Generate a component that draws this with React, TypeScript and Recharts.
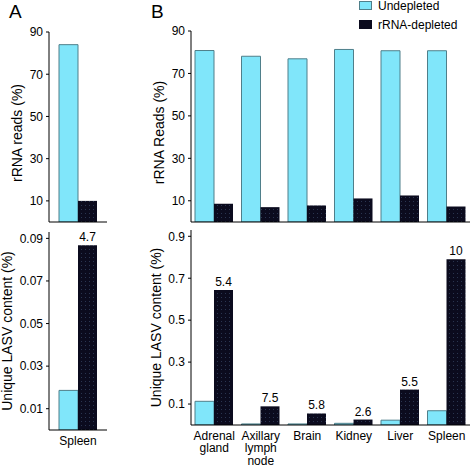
import React from 'react';
import { BarChart, Bar, XAxis, YAxis, LabelList, Legend, Label } from 'recharts';

const FONT = '"Liberation Sans", Arial, Helvetica, sans-serif';

// Panel A (spleen only)
const spleenCategory = ['Spleen'];
const spleenRrnaUndepleted = [84];
const spleenRrnaDepleted = [10];
const spleenLasvUndepleted = [0.0186];
const spleenLasvDepleted = [0.0868];
const spleenFold = ['4.7'];

// Panel B (tissues)
const tissues = ['Adrenal gland', 'Axillary lymph node', 'Brain', 'Kidney', 'Liver', 'Spleen'];
const rrnaUndepleted = [80.8, 78.1, 76.9, 81.3, 80.7, 80.7];
const rrnaDepleted = [8.6, 7.0, 7.8, 11.1, 12.5, 7.3];
const lasvUndepleted = [0.113, 0.005, 0.005, 0.008, 0.023, 0.068];
const lasvDepleted = [0.644, 0.089, 0.055, 0.026, 0.169, 0.79];
const foldLabels = ['5.4', '7.5', '5.8', '2.6', '5.5', '10'];

// Ticks
const rrnaTicks = [10, 30, 50, 70, 90];
const lasvTicksA = [0.01, 0.03, 0.05, 0.07, 0.09];
const lasvTicksB = [0.1, 0.3, 0.5, 0.7, 0.9];

const seriesNames = ['Undepleted', 'rRNA-depleted'];
const CYAN = '#80e6fa';
const CYAN_STROKE = '#4f7f8a';
const DARK = '#0b0b1e';

const dataATop = spleenCategory.map((c, i) => ({ cat: c, undepleted: spleenRrnaUndepleted[i], depleted: spleenRrnaDepleted[i] }));
const dataABottom = spleenCategory.map((c, i) => ({ cat: c, undepleted: spleenLasvUndepleted[i], depleted: spleenLasvDepleted[i], fold: spleenFold[i] }));
const dataBTop = tissues.map((c, i) => ({ cat: c, undepleted: rrnaUndepleted[i], depleted: rrnaDepleted[i] }));
const dataBBottom = tissues.map((c, i) => ({ cat: c, undepleted: lasvUndepleted[i], depleted: lasvDepleted[i], fold: foldLabels[i] }));

const YTick = (props: any) => {
  const { x, y, payload } = props;
  return (
    <text x={x} y={y} dy="0.36em" textAnchor="end" fontSize={12} fontFamily={FONT} fill="#000">
      {String(payload.value)}
    </text>
  );
};

const XTick = (props: any) => {
  const { x, y, payload } = props;
  const words = String(payload.value).split(' ');
  return (
    <g>
      {words.map((w, i) => (
        <text key={i} x={x} y={y + 10.5 + i * 12.5} textAnchor="middle" fontSize={12} fontFamily={FONT} fill="#000">
          {w}
        </text>
      ))}
    </g>
  );
};

const DotPattern = () => (
  <defs>
    <pattern id="dots" width="4" height="4" patternUnits="userSpaceOnUse">
      <rect width="4" height="4" fill={DARK} />
      <rect x="1" y="1" width="1" height="1" fill="#2a3550" />
    </pattern>
  </defs>
);

const LegendContent = (props: any) => {
  const { payload } = props;
  return (
    <div style={{ fontFamily: FONT, fontSize: 12, color: '#000' }}>
      {(payload || []).map((e: any, i: number) => (
        <div key={i} style={{ display: 'flex', alignItems: 'center', height: 19 }}>
          <div
            style={{
              width: 11,
              height: 7,
              background: i === 0 ? CYAN : DARK,
              border: `1px solid ${i === 0 ? CYAN_STROKE : DARK}`,
              marginRight: 6,
            }}
          />
          <span>{e.value}</span>
        </div>
      ))}
    </div>
  );
};

const titleStyle = { textAnchor: 'middle' as const, fontFamily: FONT, fontSize: 14, fill: '#000' };

export default function App() {
  return (
    <div style={{ position: 'absolute', left: 0, top: 0, width: 471, height: 467, background: '#fff', fontFamily: FONT, overflow: 'hidden' }}>
      <div style={{ position: 'absolute', left: 9, top: 1, fontSize: 19, fontFamily: FONT }}>A</div>
      <div style={{ position: 'absolute', left: 151, top: 1, fontSize: 19, fontFamily: FONT }}>B</div>

      {/* A top */}
      <div style={{ position: 'absolute', left: 0, top: 0 }}>
        <BarChart width={110} height={224} data={dataATop} margin={{ top: 32, right: 3, bottom: 0, left: 0 }} barGap={0}>
          <DotPattern />
          <XAxis dataKey="cat" tick={false} tickLine={false} height={2} axisLine={{ stroke: '#000' }} />
          <YAxis width={49} domain={[0, 90]} ticks={rrnaTicks} tick={<YTick />} tickSize={3} tickMargin={3} tickLine={{ stroke: '#000' }} axisLine={{ stroke: '#000' }} allowDataOverflow>
            <Label value="rRNA reads (%)" angle={-90} position="insideLeft" offset={17} dy={6} style={titleStyle} />
          </YAxis>
          <Bar dataKey="undepleted" name={seriesNames[0]} fill={CYAN} stroke={CYAN_STROKE} strokeWidth={1} barSize={19} isAnimationActive={false} />
          <Bar dataKey="depleted" name={seriesNames[1]} fill="url(#dots)" barSize={19} isAnimationActive={false} />
        </BarChart>
      </div>

      {/* A bottom */}
      <div style={{ position: 'absolute', left: 0, top: 228 }}>
        <BarChart width={110} height={239} data={dataABottom} margin={{ top: 4, right: 3, bottom: 0, left: 0 }} barGap={0}>
          <DotPattern />
          <XAxis dataKey="cat" tick={<XTick />} tickLine={false} tickSize={0} tickMargin={4} height={37} axisLine={{ stroke: '#000' }} interval={0} />
          <YAxis width={49} domain={[0, 0.093]} ticks={lasvTicksA} tick={<YTick />} tickSize={3} tickMargin={3} tickLine={{ stroke: '#000' }} axisLine={{ stroke: '#000' }} allowDataOverflow>
            <Label value="Unique LASV content (%)" angle={-90} position="insideLeft" offset={7} style={titleStyle} />
          </YAxis>
          <Bar dataKey="undepleted" name={seriesNames[0]} fill={CYAN} stroke={CYAN_STROKE} strokeWidth={1} barSize={19} isAnimationActive={false} />
          <Bar dataKey="depleted" name={seriesNames[1]} fill="url(#dots)" barSize={19} isAnimationActive={false}>
            <LabelList dataKey="fold" position="top" offset={4} fontSize={12} fontFamily={FONT} fill="#000" />
          </Bar>
        </BarChart>
      </div>

      {/* B top */}
      <div style={{ position: 'absolute', left: 144, top: 0 }}>
        <BarChart width={327} height={224} data={dataBTop} margin={{ top: 31, right: 1, bottom: 0, left: 0 }} barGap={0}>
          <DotPattern />
          <XAxis dataKey="cat" tick={false} tickLine={false} height={2} axisLine={{ stroke: '#000' }} />
          <YAxis width={47} domain={[0, 90]} ticks={rrnaTicks} tick={<YTick />} tickSize={3} tickMargin={3} tickLine={{ stroke: '#000' }} axisLine={{ stroke: '#000' }} allowDataOverflow>
            <Label value="rRNA Reads (%)" angle={-90} position="insideLeft" offset={15} dy={6} style={titleStyle} />
          </YAxis>
          <Legend
            layout="vertical"
            align="center"
            verticalAlign="middle"
            content={<LegendContent />}
            wrapperStyle={{ position: 'absolute', left: 215, top: -4, width: 112 }}
          />
          <Bar dataKey="undepleted" name={seriesNames[0]} fill={CYAN} stroke={CYAN_STROKE} strokeWidth={1} barSize={19} isAnimationActive={false} />
          <Bar dataKey="depleted" name={seriesNames[1]} fill="url(#dots)" barSize={19} isAnimationActive={false} />
        </BarChart>
      </div>

      {/* B bottom */}
      <div style={{ position: 'absolute', left: 144, top: 228 }}>
        <BarChart width={327} height={239} data={dataBBottom} margin={{ top: 2, right: 1, bottom: 0, left: 0 }} barGap={0}>
          <DotPattern />
          <XAxis dataKey="cat" tick={<XTick />} tickLine={false} tickSize={0} tickMargin={4} height={42} axisLine={{ stroke: '#000' }} interval={0} />
          <YAxis width={47} domain={[0, 0.93]} ticks={lasvTicksB} tick={<YTick />} tickSize={3} tickMargin={3} tickLine={{ stroke: '#000' }} axisLine={{ stroke: '#000' }} allowDataOverflow>
            <Label value="Unique LASV content (%)" angle={-90} position="insideLeft" offset={12} style={titleStyle} />
          </YAxis>
          <Bar dataKey="undepleted" name={seriesNames[0]} fill={CYAN} stroke={CYAN_STROKE} strokeWidth={1} barSize={19} isAnimationActive={false} />
          <Bar dataKey="depleted" name={seriesNames[1]} fill="url(#dots)" barSize={19} isAnimationActive={false}>
            <LabelList dataKey="fold" position="top" offset={4} fontSize={12} fontFamily={FONT} fill="#000" />
          </Bar>
        </BarChart>
      </div>
    </div>
  );
}
